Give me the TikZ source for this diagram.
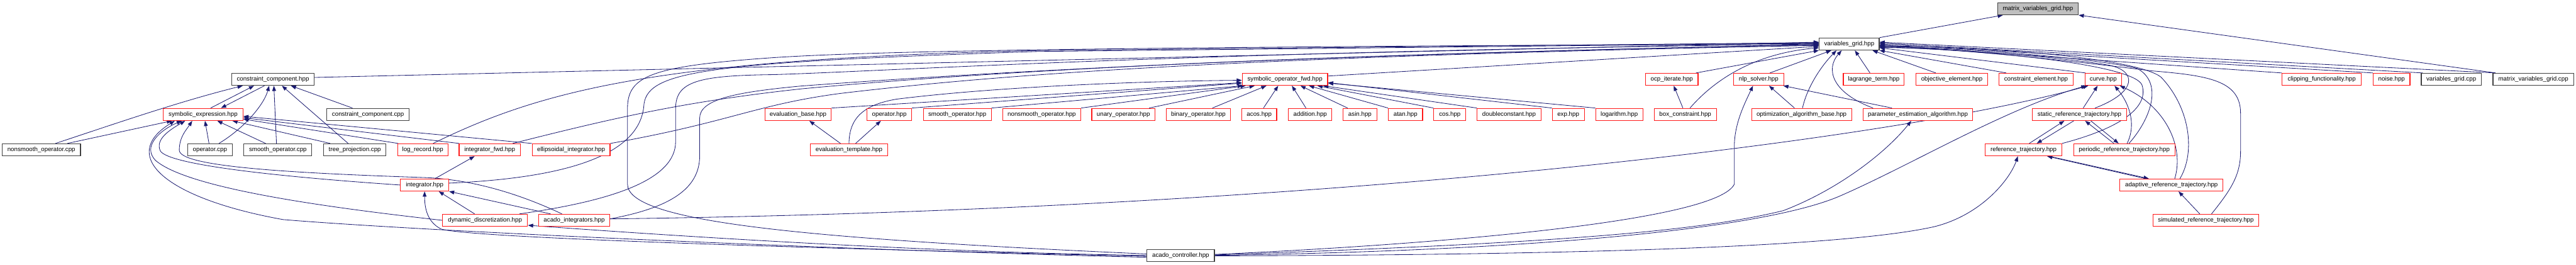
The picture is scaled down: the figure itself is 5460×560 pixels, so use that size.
\documentclass[tikz,border=0pt]{standalone}
\usepackage{fontspec}
\setmainfont{Liberation Sans}
\usetikzlibrary{arrows.meta,backgrounds}
\definecolor{EdgeClr}{rgb}{0.098,0.098,0.439}
\definecolor{TruncClr}{rgb}{1,0.1,0.1}
\definecolor{BorderClr}{rgb}{0.25,0.25,0.25}
\definecolor{RootClr}{rgb}{0.75,0.75,0.75}

\tikzset{
  incfile/.style={draw=TruncClr, line width=1.5pt, fill=white, inner sep=0pt,
    minimum height=25.6pt, font=\fontsize{13}{15}\selectfont},
  srcfile/.style={incfile, draw=BorderClr},
  rootfile/.style={srcfile, fill=RootClr},
  dep/.style={draw=EdgeClr, line width=1.1pt, -{Triangle[length=11pt,width=8pt]}},
}

\begin{document}
\begin{tikzpicture}[x=1pt,y=-1pt]
\useasboundingbox (0,0) rectangle (5460,560);

\node[rootfile, minimum width=171pt] (mvgh) at (4319.5,18.5) {matrix\_variables\_grid.hpp};
\node[srcfile, minimum width=127pt] (vgh) at (3919.5,93.2) {variables\_grid.hpp};

\node[srcfile, minimum width=175pt] (ccomph) at (578.5,168) {constraint\_component.hpp};
\node[incfile, minimum width=181pt] (sofwd) at (2723.5,168) {symbolic\_operator\_fwd.hpp};
\node[incfile, minimum width=111pt] (ocpit) at (3543.5,168) {ocp\_iterate.hpp};
\node[incfile, minimum width=107pt] (nlp) at (3727.5,168) {nlp\_solver.hpp};
\node[incfile, minimum width=129pt] (lag) at (3971.5,168) {lagrange\_term.hpp};
\node[incfile, minimum width=152pt] (obj) at (4137,168) {objective\_element.hpp};
\node[incfile, minimum width=157pt] (celem) at (4315.5,168) {constraint\_element.hpp};
\node[incfile, minimum width=78pt] (curve) at (4458,168) {curve.hpp};
\node[incfile, minimum width=168pt] (clip) at (4921,168) {clipping\_functionality.hpp};
\node[incfile, minimum width=78pt] (noise) at (5069,168) {noise.hpp};
\node[srcfile, minimum width=127pt] (vgcpp) at (5195.5,168) {variables\_grid.cpp};
\node[srcfile, minimum width=171pt] (mvgcpp) at (5369.5,168) {matrix\_variables\_grid.cpp};

\node[incfile, minimum width=169pt] (symexp) at (430.5,242.3) {symbolic\_expression.hpp};
\node[srcfile, minimum width=175pt] (ccompcpp) at (780,242.3) {constraint\_component.cpp};
\node[incfile, minimum width=141pt] (evbase) at (1691.5,242.3) {evaluation\_base.hpp};
\node[incfile, minimum width=94.5pt] (oph) at (1885,242.3) {operator.hpp};
\node[incfile, minimum width=144pt] (smoothh) at (2029,242.3) {smooth\_operator.hpp};
\node[incfile, minimum width=166pt] (nonsmoothh) at (2208,242.3) {nonsmooth\_operator.hpp};
\node[incfile, minimum width=134pt] (unary) at (2381,242.3) {unary\_operator.hpp};
\node[incfile, minimum width=136pt] (binary) at (2540,242.3) {binary\_operator.hpp};
\node[incfile, minimum width=74pt] (acos) at (2669,242.3) {acos.hpp};
\node[incfile, minimum width=92pt] (addition) at (2777,242.3) {addition.hpp};
\node[incfile, minimum width=71pt] (asin) at (2882.5,242.3) {asin.hpp};
\node[incfile, minimum width=72.5pt] (atan) at (2979,242.3) {atan.hpp};
\node[incfile, minimum width=68pt] (cos) at (3073,242.3) {cos.hpp};
\node[incfile, minimum width=135pt] (dconst) at (3198.5,242.3) {doubleconstant.hpp};
\node[incfile, minimum width=68pt] (exp) at (3324,242.3) {exp.hpp};
\node[incfile, minimum width=100pt] (log) at (3432,242.3) {logarithm.hpp};
\node[incfile, minimum width=132pt] (box) at (3572,242.3) {box\_constraint.hpp};
\node[incfile, minimum width=212pt] (optbase) at (3818.5,242.3) {optimization\_algorithm\_base.hpp};
\node[incfile, minimum width=232pt] (paramest) at (4065,242.3) {parameter\_estimation\_algorithm.hpp};
\node[incfile, minimum width=201pt] (staticref) at (4407.5,242.3) {static\_reference\_trajectory.hpp};

\node[srcfile, minimum width=166pt] (nscpp) at (87.6,317.3) {nonsmooth\_operator.cpp};
\node[srcfile, minimum width=94.5pt] (opcpp) at (445,317.3) {operator.cpp};
\node[srcfile, minimum width=144pt] (scpp) at (589,317.3) {smooth\_operator.cpp};
\node[srcfile, minimum width=132pt] (tree) at (752,317.3) {tree\_projection.cpp};
\node[incfile, minimum width=106.5pt] (logrec) at (896,317.3) {log\_record.hpp};
\node[incfile, minimum width=130pt] (intfwd) at (1038,317.3) {integrator\_fwd.hpp};
\node[incfile, minimum width=165pt] (ellip) at (1210.5,317.3) {ellipsoidal\_integrator.hpp};
\node[incfile, minimum width=163pt] (evtempl) at (1799.5,317.3) {evaluation\_template.hpp};
\node[incfile, minimum width=162pt] (reftraj) at (4289,317.3) {reference\_trajectory.hpp};
\node[incfile, minimum width=215pt] (periodic) at (4502.5,317.3) {periodic\_reference\_trajectory.hpp};

\node[incfile, minimum width=102pt] (integ) at (900,391.8) {integrator.hpp};
\node[incfile, minimum width=219pt] (adaptive) at (4602.5,391.8) {adaptive\_reference\_trajectory.hpp};

\node[incfile, minimum width=180.5pt] (dyndisc) at (1028,466.5) {dynamic\_discretization.hpp};
\node[incfile, minimum width=150.5pt] (acadoint) at (1217,466.5) {acado\_integrators.hpp};
\node[incfile, minimum width=225pt] (simref) at (4675.5,466.5) {simulated\_reference\_trajectory.hpp};

\node[srcfile, minimum width=143pt] (ctrl) at (2502.5,540.8) {acado\_controller.hpp};

\begin{scope}[on background layer]
\fill[white] (0,0) rectangle (5460,560);

\draw[dep] (vgh.north east) -- ([xshift=12pt]mvgh.south west);
\draw[dep] ([xshift=6pt]mvgcpp.north west) -- (mvgh.south east);

\draw[dep] ([xshift=6pt]mvgcpp.north west) -- ([yshift=4pt]vgh.east);
\draw[dep] ([xshift=4pt]vgcpp.north west) -- ([yshift=2pt]vgh.east);
\draw[dep] (noise.north west) -- (vgh.east);
\draw[dep] (clip.north west) -- ([yshift=-2pt]vgh.east);
\draw[dep] ([xshift=2pt]curve.north west) -- ([yshift=-8pt]vgh.east);
\draw[dep] ([xshift=16pt]celem.north west) -- (vgh.south east);
\draw[dep] ([xshift=-34pt]obj.north) -- ([xshift=-15pt]vgh.south east);
\draw[dep] ([xshift=-8pt]lag.north) -- ([xshift=12pt]vgh.south);

\draw[dep] ([xshift=33pt]staticref.north) .. controls (4530,195) and (4530,150) .. (4470,138)
  .. controls (4400,126) and (4200,105) .. ([yshift=-7pt]vgh.east);
\draw[dep] ([xshift=10pt]periodic.north) .. controls (4560,250) and (4585,175) .. (4530,145)
  .. controls (4450,125) and (4200,103) .. ([yshift=-5pt]vgh.east);
\draw[dep] (reftraj.north east) .. controls (4500,270) and (4555,225) .. (4540,180)
  .. controls (4525,140) and (4250,108) .. ([yshift=-6pt]vgh.east);
\draw[dep] ([xshift=18pt]adaptive.north) .. controls (4655,320) and (4640,225) .. (4580,163)
  .. controls (4530,125) and (4250,100) .. ([yshift=-4pt]vgh.east);
\draw[dep] ([xshift=12pt]simref.north) .. controls (4730,400) and (4749,370) .. (4749,320) -- (4749,240)
  .. controls (4749,170) and (4680,160) .. (4560,150) .. controls (4400,130) and (4200,108) .. ([yshift=-3pt]vgh.east);

\draw[dep] ([xshift=8pt]staticref.north) -- ([xshift=-12pt]curve.south);
\draw[dep] ([xshift=6pt]periodic.north) .. controls (4530,260) and (4510,215) .. ([xshift=-16pt]curve.south east);
\draw[dep] ([xshift=7pt]adaptive.north) .. controls (4630,310) and (4590,225) .. ([xshift=-5pt]curve.south east);

\draw[dep] ([xshift=12pt]reftraj.north) -- ([xshift=-32pt]staticref.south);
\draw[dep] ([xshift=-12pt]staticref.south) -- ([xshift=28pt]reftraj.north);
\draw[dep] ([xshift=-22pt]periodic.north) -- ([xshift=12pt]staticref.south);
\draw[dep] ([xshift=24pt]staticref.south) -- ([xshift=-12pt]periodic.north);
\draw[dep] ([xshift=-55pt]adaptive.north) -- ([xshift=50pt]reftraj.south);
\draw[dep] ([xshift=54pt]reftraj.south) -- ([xshift=-48pt]adaptive.north);
\draw[dep] ([xshift=-13pt]simref.north) -- ([xshift=15pt]adaptive.south);

\draw[dep] ([xshift=24pt]nlp.north) -- ([xshift=-38pt]vgh.south);
\draw[dep] ([xshift=2pt]optbase.north) .. controls (3830,185) and (3860,140) .. ([xshift=-27pt]vgh.south);
\draw[dep] ([xshift=-95pt]paramest.north) .. controls (3880,195) and (3870,145) .. ([xshift=-16pt]vgh.south);
\draw[dep] ([xshift=-55pt]paramest.north) -- ([xshift=-2pt]nlp.south east);
\draw[dep] ([xshift=-15pt]optbase.north) -- ([xshift=22pt]nlp.south);
\draw[dep] ([xshift=-5pt]ocpit.north east) -- (vgh.south west);
\draw[dep] ([xshift=10pt]box.north) .. controls (3620,185) and (3700,115) .. ([yshift=-8pt]vgh.west);
\draw[dep] ([xshift=-5pt]box.north) -- ([xshift=4pt]ocpit.south);
\draw[dep] ([yshift=7pt]sofwd.east) -- ([yshift=-5pt]vgh.west);

\draw[dep] ([yshift=2pt]ctrl.east) .. controls (3100,515) and (3640,465) .. (3676,390) -- (3676,310)
  .. controls (3676,260) and (3700,215) .. ([xshift=-12pt]nlp.south);
\draw[dep] ([yshift=1pt]ctrl.east) .. controls (3300,515) and (3600,490) .. (3780,446)
  .. controls (3900,400) and (4000,320) .. ([xshift=-14pt]paramest.south);
\draw[dep] (ctrl.east) .. controls (3300,530) and (3750,480) .. (3900,415)
  .. controls (4050,350) and (4250,230) .. ([xshift=4pt]curve.south west);
\draw[dep] ([yshift=-1pt]ctrl.east) .. controls (3300,540) and (3900,525) .. (4100,480)
  .. controls (4200,455) and (4260,380) .. ([xshift=-12pt]reftraj.south);
\draw[dep] ([yshift=3pt]acadoint.east) .. controls (2800,445) and (4000,300) .. ([xshift=8pt]curve.south west);

\draw[dep] ([yshift=4pt]ccomph.east) -- ([yshift=4pt]vgh.west);
\draw[dep] ([xshift=22pt]logrec.north) .. controls (1150,190) and (1400,125) .. (2200,107) -- ([yshift=3pt]vgh.west);
\draw[dep] ([yshift=4pt]integ.east) .. controls (1250,375) and (1360,310) .. (1365,220)
  .. controls (1375,150) and (1500,132) .. (2200,109) -- ([yshift=2pt]vgh.west);
\draw[dep] ([yshift=3pt]ctrl.west) .. controls (1700,505) and (1330,470) .. (1330,390) -- (1330,230)
  .. controls (1330,160) and (1380,140) .. (1640,122) .. controls (1900,105) and (2500,100) .. ([yshift=1pt]vgh.west);
\draw[dep] ([xshift=-18pt]dyndisc.north east) .. controls (1300,425) and (1432,380) .. (1432,300) -- (1432,230)
  .. controls (1432,172) and (1480,160) .. (1640,158) .. controls (1900,150) and (2500,110) .. (vgh.west);
\draw[dep] ([yshift=3pt]acadoint.east) .. controls (1420,440) and (1483,400) .. (1483,330) -- (1483,250)
  .. controls (1483,210) and (1560,195) .. (1700,182) .. controls (2000,160) and (2600,120) .. ([yshift=-1pt]vgh.west);
\draw[dep] ([xshift=-17pt]intfwd.north east) .. controls (1300,250) and (1450,215) .. (1700,188)
  .. controls (2000,160) and (2600,118) .. ([yshift=-2pt]vgh.west);
\draw[dep] (ellip.north east) .. controls (1550,258) and (1600,222) .. (1780,198)
  .. controls (2100,160) and (2600,120) .. ([yshift=-3pt]vgh.west);

\draw[dep] ([yshift=-4pt]ctrl.west) .. controls (1800,530) and (900,490) .. (600,465)
  .. controls (350,420) and (250,330) .. ([xshift=-60pt]symexp.south);
\draw[dep] (dyndisc.west) .. controls (700,440) and (400,400) .. (330,340)
  .. controls (300,310) and (340,275) .. ([xshift=-45pt]symexp.south);
\draw[dep] (integ.west) .. controls (600,375) and (360,350) .. (340,320)
  .. controls (328,295) and (360,275) .. ([xshift=-38pt]symexp.south);
\draw[dep] ([xshift=-26pt]acadoint.north) .. controls (1100,410) and (1000,380) .. (900,376)
  .. controls (600,366) and (380,352) .. (380,318) .. controls (380,290) and (395,275) .. ([xshift=-23pt]symexp.south);
\draw[dep] ([xshift=-50pt]acadoint.north) -- (integ.south east);
\draw[dep] ([xshift=-22pt]dyndisc.north) -- ([xshift=30pt]integ.south);
\draw[dep] ([yshift=-2pt]ctrl.west) .. controls (1800,528) and (1000,505) .. (935,485)
  .. controls (905,470) and (900,440) .. (integ.south);
\draw[dep] (ctrl.west) .. controls (2000,535) and (1500,505) .. ([yshift=3pt]dyndisc.south east);
\draw[dep] ([xshift=22pt]integ.north) -- ([xshift=-32pt]intfwd.south);

\draw[dep] ([xshift=30pt]nscpp.north) .. controls (250,260) and (380,215) .. ([xshift=-64pt]ccomph.south);
\draw[dep] ([xshift=55pt]nscpp.north) -- ([xshift=-66pt]symexp.south);
\draw[dep] ([xshift=16pt]symexp.north) -- ([xshift=-40pt]ccomph.south);
\draw[dep] ([xshift=-18pt]ccomph.south) -- ([xshift=38pt]symexp.north);
\draw[dep] ([xshift=19pt]opcpp.north) .. controls (520,270) and (560,220) .. ([xshift=-8pt]ccomph.south);
\draw[dep] ([xshift=-2pt]opcpp.north) -- ([xshift=4pt]symexp.south);
\draw[dep] ([xshift=-3pt]scpp.north) -- ([xshift=2pt]ccomph.south);
\draw[dep] ([xshift=-26pt]scpp.north) -- ([xshift=30pt]symexp.south);
\draw[dep] ([xshift=-14pt]tree.north) -- ([xshift=19pt]ccomph.south);
\draw[dep] ([xshift=-52pt]tree.north) -- ([xshift=62pt]symexp.south);
\draw[dep] ([xshift=-33pt]ccompcpp.north) -- ([xshift=38pt]ccomph.south);
\draw[dep] ([xshift=2pt]logrec.north west) -- ([yshift=-10pt]symexp.east);
\draw[dep] ([xshift=1pt]intfwd.north west) -- ([yshift=-7pt]symexp.east);
\draw[dep] (ellip.north west) -- ([yshift=-4pt]symexp.east);

\draw[dep] ([xshift=-18pt]evtempl.north) -- ([xshift=24pt]evbase.south);
\draw[dep] ([xshift=14pt]evtempl.north) -- ([xshift=-18pt]oph.south);
\draw[dep] (evtempl.north) .. controls (1800,250) and (1830,222) .. (1900,210)
  .. controls (2100,185) and (2400,172) .. ([yshift=-2pt]sofwd.west);
\draw[dep] (evbase.north east) -- ([yshift=-7pt]sofwd.west);
\draw[dep] (oph.north east) -- ([yshift=-8pt]sofwd.west);
\draw[dep] (smoothh.north east) -- ([xshift=2pt]sofwd.south west);
\draw[dep] (nonsmoothh.north east) -- ([xshift=8pt]sofwd.south west);
\draw[dep] ([xshift=-13pt]unary.north east) -- ([xshift=27pt]sofwd.south west);
\draw[dep] ([xshift=-39pt]binary.north east) -- ([xshift=52pt]sofwd.south west);
\draw[dep] ([xshift=9pt]acos.north) -- ([xshift=77pt]sofwd.south west);
\draw[dep] ([xshift=-9pt]addition.north) -- ([xshift=106pt]sofwd.south west);
\draw[dep] ([xshift=10pt]asin.north west) -- ([xshift=124pt]sofwd.south west);
\draw[dep] (atan.north west) -- ([xshift=142pt]sofwd.south west);
\draw[dep] (cos.north west) -- ([xshift=160pt]sofwd.south west);
\draw[dep] (dconst.north west) -- ([xshift=172pt]sofwd.south west);
\draw[dep] (exp.north west) -- ([yshift=-7pt]sofwd.east);
\draw[dep] (log.north west) -- ([yshift=-8pt]sofwd.east);
\end{scope}

\end{tikzpicture}
\end{document}
